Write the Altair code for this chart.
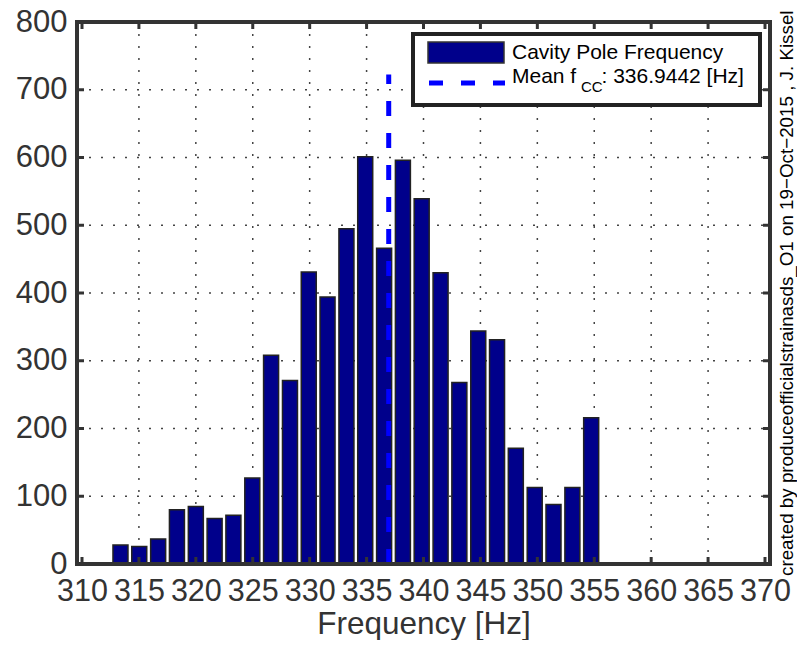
import altair as alt
import pandas as pd

# ---- data ----
bin_centers = [313.38, 315.03, 316.69, 318.34, 320.00, 321.65, 323.30, 324.96,
               326.61, 328.27, 329.92, 331.57, 333.23, 334.88, 336.54, 338.19,
               339.84, 341.50, 343.15, 344.81, 346.46, 348.11, 349.77, 351.42,
               353.08, 354.73]
counts = [28, 26, 37, 80, 85, 67, 72, 127, 308, 271, 431, 394, 495, 601,
          466, 596, 539, 430, 268, 344, 331, 171, 113, 88, 113, 216]
mean_fcc = 336.9442
mean_line_top = 722.4          # 1.2 * max(counts)
x_ticks = [310, 315, 320, 325, 330, 335, 340, 345, 350, 355, 360, 365, 370]
y_ticks = [0, 100, 200, 300, 400, 500, 600, 700, 800]
legend_labels = ["Cavity Pole Frequency", "Mean f", "CC", ": 336.9442 [Hz]"]
side_note = "created by produceofficialstrainasds_O1 on 19\u2212Oct\u22122015 , J. Kissel"
x_title = "Frequency [Hz]"

FONT = "Liberation Sans"
W, H = 693, 542
NAVY = "#00008B"
AX = "#333333"

hist = pd.DataFrame({"f": bin_centers, "n": counts})
xt = pd.DataFrame({"v": x_ticks})
yt = pd.DataFrame({"v": y_ticks})
xg = pd.DataFrame({"v": x_ticks[1:-1]})
yg = pd.DataFrame({"v": y_ticks[1:-1]})
one = pd.DataFrame({"a": [0]})
mean_df = pd.DataFrame({"m": [mean_fcc], "y0": [0], "y1": [mean_line_top]})

xs = alt.Scale(domain=[310, 370], nice=False, zero=False)
ys = alt.Scale(domain=[0, 800], nice=False)

x_axis = alt.Axis(values=x_ticks, title=x_title, grid=False, ticks=False,
                  domain=False, labelFontSize=30.5, labelFont=FONT, labelColor=AX, labelPadding=12,
                  titleFontSize=31.5, titleFont=FONT, titleColor=AX, titleFontWeight="normal",
                  titlePadding=2, labelFlush=False, labelOverlap=False)
y_axis = alt.Axis(values=y_ticks, title=None, grid=False, ticks=False,
                  domain=False, labelFontSize=31, labelFont=FONT, labelColor=AX, labelPadding=10,
                  labelFlush=False, labelOverlap=False)


def X(field):
    return alt.X(field, scale=xs, axis=x_axis, title=x_title)


def Y(field):
    return alt.Y(field, scale=ys, axis=y_axis, title=None)


grid_x = alt.Chart(xg).mark_rule(color="#444", strokeWidth=1.5, strokeDash=[2, 10]).encode(
    x=X("v:Q"), y=alt.value(0), y2=alt.value(H))
grid_y = alt.Chart(yg).mark_rule(color="#444", strokeWidth=1.5, strokeDash=[2, 10]).encode(
    y=Y("v:Q"), x=alt.value(0), x2=alt.value(W))

bars = alt.Chart(hist).mark_bar(size=15, color=NAVY, stroke="#222", strokeWidth=1.5).encode(
    x=X("f:Q"), y=Y("n:Q"))

mean_rule = alt.Chart(mean_df).mark_rule(color="#0000FF", strokeWidth=5, strokeDash=[15, 17]).encode(
    x=X("m:Q"), y=Y("y0:Q"), y2="y1:Q")

frame = alt.Chart(one).mark_rect(fillOpacity=0, stroke=AX, strokeWidth=4).encode(
    x=alt.value(0), x2=alt.value(W), y=alt.value(0), y2=alt.value(H))

tick_b = alt.Chart(xt).mark_rule(color=AX, strokeWidth=3).encode(
    x=X("v:Q"), y=alt.value(H), y2=alt.value(H - 7))
tick_t = alt.Chart(xt).mark_rule(color=AX, strokeWidth=3).encode(
    x=X("v:Q"), y=alt.value(0), y2=alt.value(7))
tick_l = alt.Chart(yt).mark_rule(color=AX, strokeWidth=3).encode(
    y=Y("v:Q"), x=alt.value(0), x2=alt.value(7))
tick_r = alt.Chart(yt).mark_rule(color=AX, strokeWidth=3).encode(
    y=Y("v:Q"), x=alt.value(W - 7), x2=alt.value(W))

leg_box = alt.Chart(one).mark_rect(fill="white", stroke="#222", strokeWidth=4).encode(
    x=alt.value(336), x2=alt.value(683), y=alt.value(12), y2=alt.value(83))
leg_sw = alt.Chart(one).mark_rect(fill=NAVY, stroke="#333", strokeWidth=1.5).encode(
    x=alt.value(351), x2=alt.value(427), y=alt.value(20), y2=alt.value(41))
leg_dash = alt.Chart(one).mark_rule(color="#0000FF", strokeWidth=5, strokeDash=[14, 18]).encode(
    x=alt.value(352), x2=alt.value(428), y=alt.value(61))


def txt(s, x, y, size):
    return alt.Chart(one).mark_text(align="left", baseline="alphabetic", font=FONT,
                                    fontSize=size, color="black").encode(
        x=alt.value(x), y=alt.value(y), text=alt.value(s))


leg_t1 = txt(legend_labels[0], 435, 37, 21)
leg_t2 = txt(legend_labels[1], 435, 60.5, 21)
leg_t3 = txt(legend_labels[2], 504, 69.5, 15)
leg_t4 = txt(legend_labels[3], 524.5, 60.5, 21)

side = alt.Chart(one).mark_text(align="left", baseline="middle", angle=270, font=FONT,
                                fontSize=18.8, color="black").encode(
    x=alt.value(710), y=alt.value(554), text=alt.value(side_note))

chart = alt.layer(
    grid_x, grid_y, bars, mean_rule, frame, tick_b, tick_t, tick_l, tick_r,
    leg_box, leg_sw, leg_dash, leg_t1, leg_t2, leg_t3, leg_t4, side
).properties(
    width=W, height=H,
    autosize=alt.AutoSizeParams(type="none"),
    padding={"left": 69, "top": 14, "right": 27, "bottom": 76},
).configure_view(stroke=None).configure(background="white")

chart.save("out.html", embed_options={"renderer": "svg", "actions": False})
